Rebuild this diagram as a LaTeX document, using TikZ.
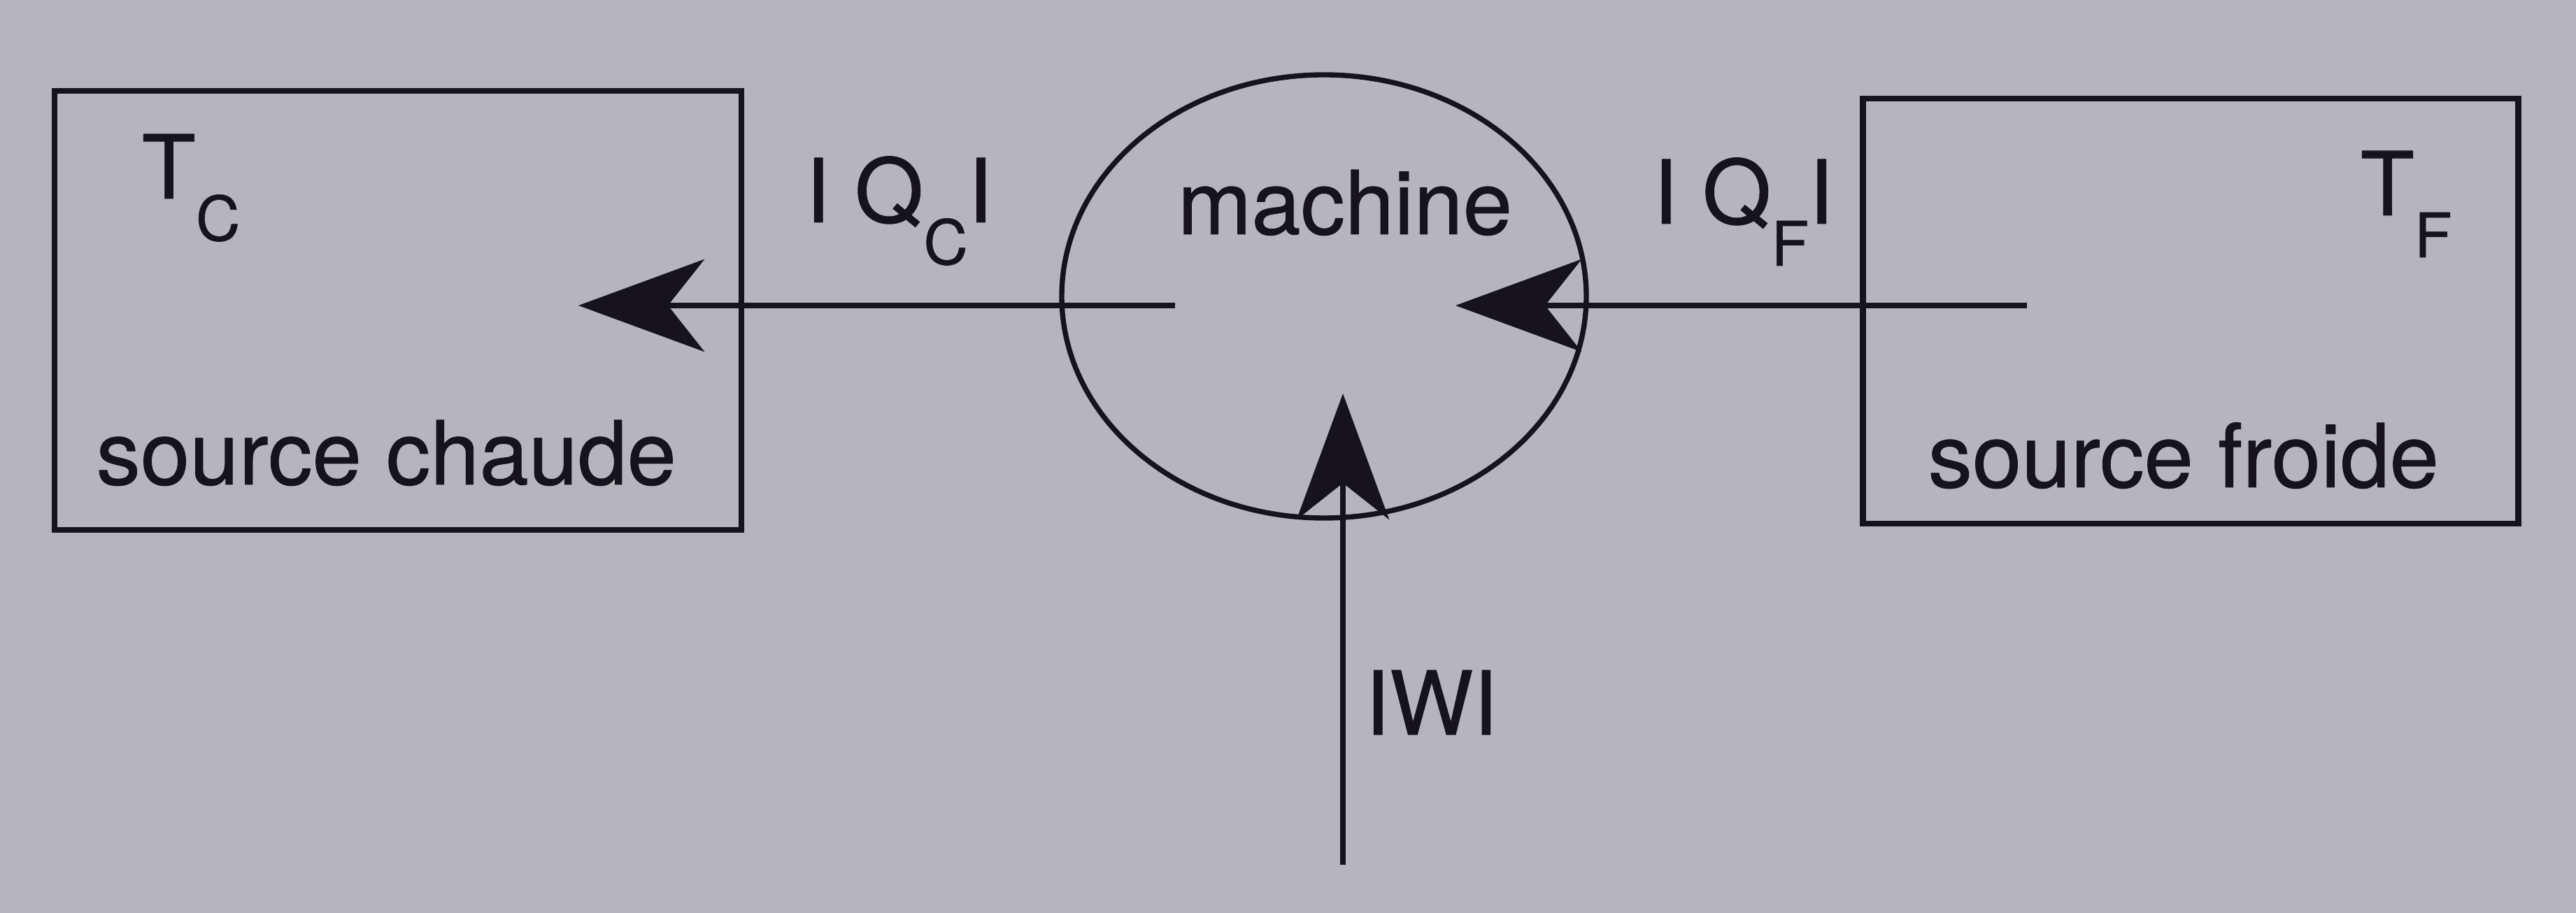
\documentclass[tikz,border=0pt]{standalone}
\usepackage{fontspec}
\setmainfont[RawFeature={embolden=0.7}]{TeX Gyre Heros}
\usetikzlibrary{shapes.geometric,arrows.meta}
\definecolor{paper}{RGB}{182,181,187}
\definecolor{ink}{RGB}{22,20,26}
\newcommand{\lowsub}[1]{\raisebox{-0.6cm}{\fontsize{25pt}{25pt}\selectfont #1}}
\tikzset{
  txt/.style={anchor=base west, inner sep=0pt, text=ink, font=\fontsize{36pt}{40pt}\selectfont},
  srcbox/.style={draw=ink, line width=2.4pt},
  flow/.style={draw=ink, line width=2.3pt, -{Stealth[length=1.8cm, width=1.32cm, inset=0.52cm]}}
}
\begin{document}
\begin{tikzpicture}
\useasboundingbox (0,0) rectangle (36.83,-13.06);
\fill[paper] (0,0) rectangle (36.83,-13.06);
% boxes and machine
\node[srcbox, minimum width=9.82cm, minimum height=6.28cm, inner sep=0pt] (hot) at (5.69,-4.44) {};
\node[srcbox, minimum width=9.37cm, minimum height=6.08cm, inner sep=0pt] (cold) at (31.32,-4.45) {};
\node[draw=ink, line width=2.1pt, ellipse, minimum width=7.5cm, minimum height=6.34cm, inner sep=0pt] (mach) at (18.93,-4.24) {};
% texts
\node[txt] (tc) at (2.02,-2.84) {T\lowsub{C}};
\node[txt] (hotlbl) at (1.37,-6.93) {source chaude};
\node[txt] (tf) at (33.74,-3.08) {T\lowsub{F}};
\node[txt] (coldlbl) at (27.56,-6.97) {source froide};
\node[txt, anchor=base] (machlbl) at (19.23,-3.35) {machine};
\node[txt] (qc) at (11.51,-3.18) {I Q\lowsub{C}I};
\node[txt] (qf) at (23.63,-3.20) {I Q\lowsub{F}I};
\node[txt] (w) at (19.51,-10.51) {IWI};
% connectors
\coordinate (qcstart) at (16.80,-4.37);
\coordinate (qctip) at (8.27,-4.37);
\coordinate (qfstart) at (28.98,-4.37);
\coordinate (qftip) at (20.81,-4.37);
\coordinate (wstart) at (19.20,-12.37);
\coordinate (wtip) at (19.20,-5.63);
\draw[flow] (qcstart) -- (qctip);
\draw[flow] (qfstart) -- (qftip);
\draw[flow] (wstart) -- (wtip);
\end{tikzpicture}
\end{document}
